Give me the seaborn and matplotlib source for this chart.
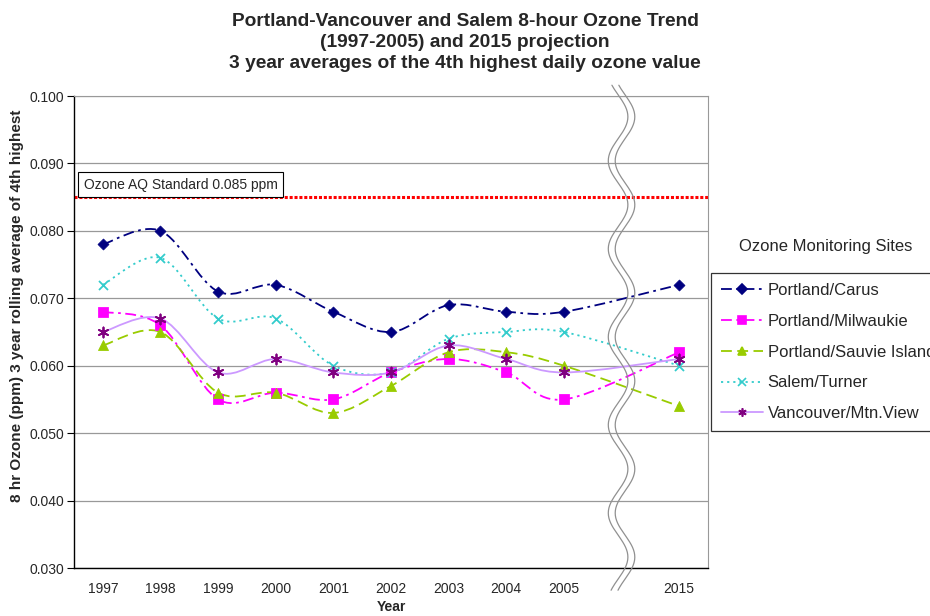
import numpy as np
import pandas as pd
import matplotlib
matplotlib.use("Agg")
import matplotlib.pyplot as plt
from matplotlib.path import Path
from matplotlib.patches import PathPatch
from matplotlib.lines import Line2D
import seaborn as sns

# category slots on the x axis, with an empty slot for the break
xcats = ["1997", "1998", "1999", "2000", "2001", "2002", "2003", "2004", "2005", "", "2015"]
years = ["1997", "1998", "1999", "2000", "2001", "2002", "2003", "2004", "2005", "2015"]

carus = [0.078, 0.080, 0.071, 0.072, 0.068, 0.065, 0.069, 0.068, 0.068, 0.072]
milwaukie = [0.068, 0.066, 0.055, 0.056, 0.055, 0.059, 0.061, 0.059, 0.055, 0.062]
sauvie = [0.063, 0.065, 0.056, 0.056, 0.053, 0.057, 0.062, 0.062, 0.060, 0.054]
salem = [0.072, 0.076, 0.067, 0.067, 0.060, 0.059, 0.064, 0.065, 0.065, 0.060]
vancouver = [0.065, 0.067, 0.059, 0.061, 0.059, 0.059, 0.063, 0.061, 0.059, 0.061]

sites = ["Portland/Carus", "Portland/Milwaukie", "Portland/Sauvie Island",
         "Salem/Turner", "Vancouver/Mtn.View"]
standard = 0.085

rows = []
for site, vals in zip(sites, [carus, milwaukie, sauvie, salem, vancouver]):
    for yr, v in zip(years, vals):
        rows.append({"site": site, "year": yr, "pos": xcats.index(yr), "ozone": v})
df = pd.DataFrame(rows)

# styles: line colour, marker colour, marker, size, dash
styles = {
    "Portland/Carus": dict(lc="#000080", mc="#000080", m="D", s=32, ls=(0, (6, 2.5, 1.5, 2.5))),
    "Portland/Milwaukie": dict(lc="#FF00FF", mc="#FF00FF", m="s", s=48, ls=(0, (6, 2.5, 1.5, 2.5))),
    "Portland/Sauvie Island": dict(lc="#99CC00", mc="#99CC00", m="^", s=52, ls=(0, (6, 3))),
    "Salem/Turner": dict(lc="#33CCCC", mc="#33CCCC", m="x", s=42, ls=(0, (1.2, 2.2))),
    "Vancouver/Mtn.View": dict(lc="#CC99FF", mc="#800080", m=(6, 2, 0), s=52, ls="-"),
}

sns.set_style("white")
plt.rcParams["font.family"] = ["Liberation Sans", "DejaVu Sans"]

fig = plt.figure(figsize=(9.3, 6.16), dpi=100)
ax = fig.add_axes([74 / 930, 1 - 568 / 616, 634 / 930, 472 / 616])


def smooth_path(xs, ys):
    # excel-like smoothed line: cubic bezier through the points
    pts = np.column_stack([xs, ys]).astype(float)
    n = len(pts)
    verts = [pts[0]]
    codes = [Path.MOVETO]
    for i in range(n - 1):
        p0 = pts[max(i - 1, 0)]
        p1 = pts[i]
        p2 = pts[i + 1]
        p3 = pts[min(i + 2, n - 1)]
        verts += [p1 + (p2 - p0) / 6, p2 - (p3 - p1) / 6, p2]
        codes += [Path.CURVE4] * 3
    return Path(verts, codes)


for site in sites:
    st = styles[site]
    sub = df[df.site == site]
    ax.add_patch(PathPatch(smooth_path(sub.pos, sub.ozone), fill=False,
                           edgecolor=st["lc"], linestyle=st["ls"], lw=1.3, zorder=3))
    if st["m"] == "x" or isinstance(st["m"], tuple):
        kw = dict(linewidths=1.3)
    else:
        kw = dict(edgecolor=st["mc"])
    sns.scatterplot(data=sub, x="pos", y="ozone", marker=st["m"], color=st["mc"],
                    s=st["s"], ax=ax, zorder=4, legend=False, **kw)

# standard line + label
ax.axhline(standard, color="red", ls=(0, (1, 0.6)), lw=2.2, zorder=2)
ax.text(-0.335, 0.0858, "Ozone AQ Standard 0.085 ppm", fontsize=10,
        ha="left", va="bottom",
        bbox=dict(boxstyle="square,pad=0.4", fc="white", ec="black", lw=0.8), zorder=5)

# axis break waves
wy = np.linspace(0.0267, 0.1016, 400)
for off in (-0.06, 0.06):
    wx = 9 + off + 0.17 * np.sin(2 * np.pi * (wy - 0.0708) / 0.01306 + np.pi / 2)
    ax.plot(wx, wy, color="#909090", lw=0.9, clip_on=False, zorder=6)

ax.set_xlim(-0.5, 10.5)
ax.set_ylim(0.030, 0.100)
ax.set_yticks(np.arange(0.03, 0.1001, 0.01))
ax.set_yticklabels([f"{v:.3f}" for v in np.arange(0.03, 0.1001, 0.01)], fontsize=10)
ax.set_xticks(range(len(xcats)))
ax.set_xticklabels(xcats, fontsize=10)
ax.set_xticks(np.arange(-0.5, 10.6, 1), minor=True)
ax.tick_params(axis="x", which="major", length=0, pad=10)
ax.tick_params(axis="x", which="minor", length=5, width=0.8, direction="out", color="black")
ax.tick_params(axis="y", length=5, width=0.8, direction="out", color="black", pad=2, left=True)
ax.grid(axis="y", color="#999999", lw=0.9)
ax.set_axisbelow(True)
for sp in ["top", "right"]:
    ax.spines[sp].set_color("#999999")
for sp in ["left", "bottom"]:
    ax.spines[sp].set_color("black")
    ax.spines[sp].set_linewidth(1.0)
ax.set_xlabel("")
ax.set_ylabel("")

fig.text(465 / 930, 1 - 13 / 616,
         "Portland-Vancouver and Salem 8-hour Ozone Trend\n(1997-2005) and 2015 projection\n"
         "3 year averages of the 4th highest daily ozone value",
         ha="center", va="top", fontsize=13.8, fontweight="bold", linespacing=1.32)
fig.text(17 / 930, 1 - 306 / 616, "8 hr Ozone (ppm) 3 year rolling average of 4th highest",
         rotation=90, ha="center", va="center", fontsize=11, fontweight="bold")
fig.text(391 / 930, 1 - 607 / 616, "Year", ha="center", va="center", fontsize=10, fontweight="bold")

# legend
handles = []
for site in sites:
    st = styles[site]
    mk = st["m"]
    handles.append(Line2D([], [], color=st["lc"], linestyle=st["ls"], lw=1.3, marker=mk,
                          markersize=6 if mk != "D" else 5, markerfacecolor=st["mc"],
                          markeredgecolor=st["mc"], markeredgewidth=1.2))
fig.text(826 / 930, 1 - 247 / 616, "Ozone Monitoring Sites", ha="center", va="center", fontsize=12)
leg = fig.legend(handles, sites, loc="upper left", bbox_to_anchor=(711 / 930, 1 - 273 / 616),
                 borderaxespad=0, fontsize=12, frameon=True, fancybox=False, shadow=False,
                 handlelength=2.5, handletextpad=0.3, labelspacing=0.95, borderpad=0.6)
leg.get_frame().set_edgecolor("black")
leg.get_frame().set_linewidth(0.9)

fig.savefig("out.png", dpi=100)
